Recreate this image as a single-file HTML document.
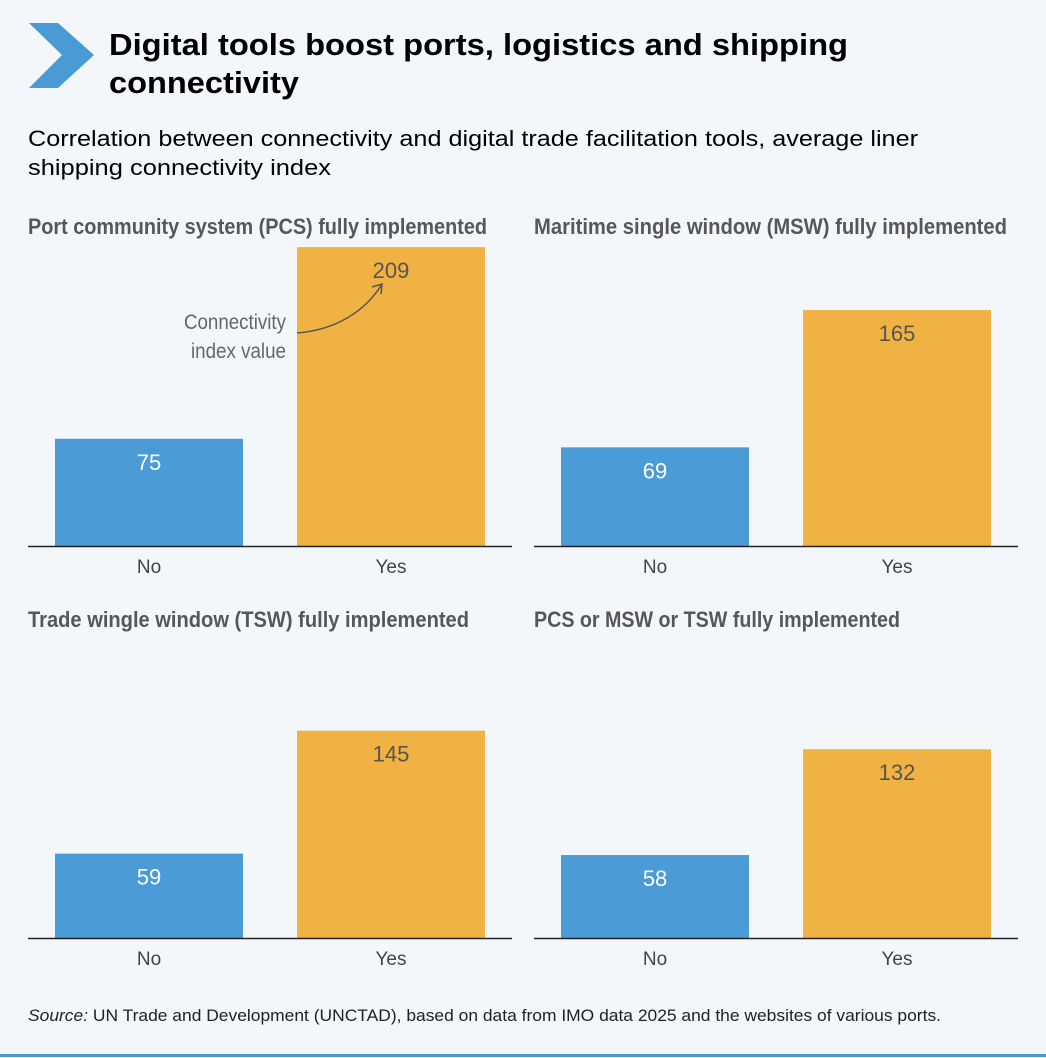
<!DOCTYPE html>
<html><head><meta charset="utf-8"><style>
body{margin:0;background:#f3f7fc;}
svg{display:block;font-family:"Liberation Sans",sans-serif;}
.pt{font-family:"Liberation Sans Narrow","Liberation Sans",sans-serif;font-weight:bold;font-size:22px;fill:#575757;}
.nar{font-family:"Liberation Sans Narrow","Liberation Sans",sans-serif;}
</style></head><body>
<svg id="chart" width="1046" height="1058" viewBox="0 0 1046 1058">
<rect width="1046" height="1058" fill="#f3f7fc"/>
<polygon points="29,23 58,23 94,55 58,88 29,88 62,55" fill="#4a9ad6"/>
<text x="109" y="55" font-size="31" font-weight="bold" fill="#000" textLength="739" lengthAdjust="spacingAndGlyphs">Digital tools boost ports, logistics and shipping</text>
<text x="109" y="93" font-size="31" font-weight="bold" fill="#000" textLength="190" lengthAdjust="spacingAndGlyphs">connectivity</text>
<text x="28" y="146" font-size="22" fill="#000" textLength="890" lengthAdjust="spacingAndGlyphs">Correlation between connectivity and digital trade facilitation tools, average liner</text>
<text x="28" y="175" font-size="22" fill="#000" textLength="303" lengthAdjust="spacingAndGlyphs">shipping connectivity index</text>
<g id="panels"></g>
<path d="M297,333 C335,330 365,312 382,284" fill="none" stroke="#555" stroke-width="1.5"/>
<path d="M372,287 L382,284 L381,294" fill="none" stroke="#555" stroke-width="1.5"/>
<text class="nar" x="184" y="329" font-size="21" fill="#666" textLength="102" lengthAdjust="spacingAndGlyphs">Connectivity</text>
<text class="nar" x="191" y="358" font-size="21" fill="#666" textLength="95" lengthAdjust="spacingAndGlyphs">index value</text>
<text x="28" y="1021" font-size="16.5" fill="#222" textLength="913" lengthAdjust="spacingAndGlyphs"><tspan font-style="italic">Source:</tspan> UN Trade and Development (UNCTAD), based on data from IMO data 2025 and the websites of various ports.</text>
<rect x="0" y="1054" width="1046" height="3" fill="#4a9ad6"/>
</svg>
<script>
const panelTitles = ["Port community system (PCS) fully implemented","Maritime single window (MSW) fully implemented","Trade wingle window (TSW) fully implemented","PCS or MSW or TSW fully implemented"];
const categories = ["No","Yes"];
const noValues = [75, 69, 59, 58];
const yesValues = [209, 165, 145, 132];
const ns = "http://www.w3.org/2000/svg";
const g = document.getElementById('panels');
const unit = 1.43;
function mk(tag, attrs, parent){const e=document.createElementNS(ns,tag);for(const k in attrs)e.setAttribute(k,attrs[k]);parent.appendChild(e);return e;}
const titleW=[459,473,441,366];
panelTitles.forEach((t,i)=>{
  const ox = i%2===0 ? 28 : 534;
  const base = i<2 ? 546 : 938;
  const ty = i<2 ? 234 : 627;
  const tt = mk('text',{x:ox,y:ty,class:'pt',textLength:titleW[i],lengthAdjust:'spacingAndGlyphs'},g);
  
  
  tt.textContent=t;
  const vals=[noValues[i],yesValues[i]];
  vals.forEach((v,j)=>{
    const x = ox + 27 + j*242;
    const h = v*unit;
    const r = mk('rect',{x:x,y:base-h,width:188,height:h,fill:j===0?'#4a9bd6':'#f0b343'},g);
    
    
    const vt = mk('text',{x:x+94,y:base-h+31,'text-anchor':'middle','font-size':22,fill:j===0?'#fff':'#555',class:'nar'},g);
    
    
    vt.textContent=v;
    const ct = mk('text',{x:x+94,y:base+27,'text-anchor':'middle','font-size':19,fill:'#444',class:'nar'},g);
    
    
    ct.textContent=categories[j];
  });
  const ax = mk('line',{x1:ox,x2:ox+484,y1:base+0.5,y2:base+0.5,stroke:'#222','stroke-width':1.5},g);
  
  
});
</script>
</body></html>
